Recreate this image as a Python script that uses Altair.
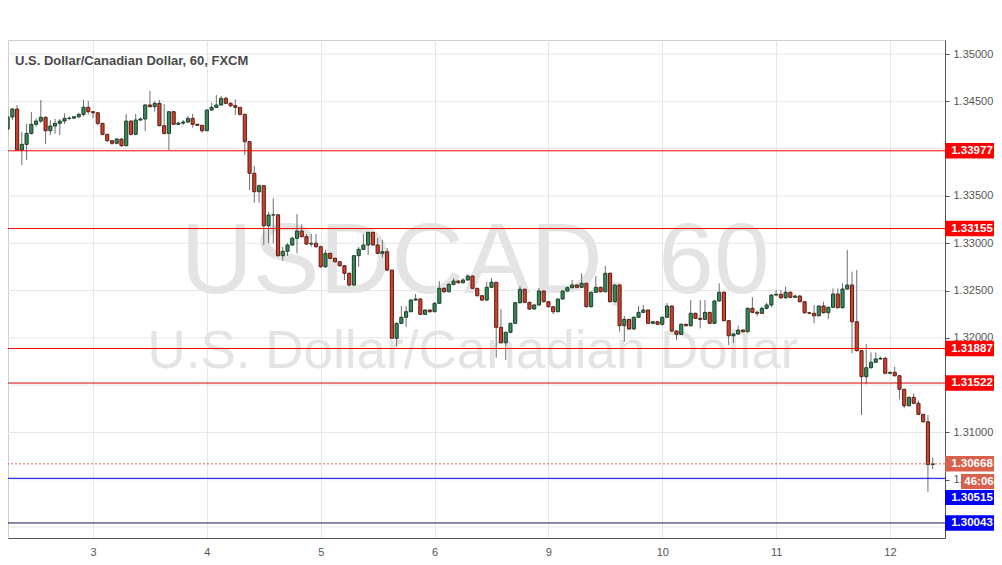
import altair as alt
import pandas as pd

# ---------------- data ----------------
first_open = 1.34207
closes = [
    1.34334, 1.34418, 1.33985, 1.34045, 1.34161, 1.34257, 1.34291, 1.34331, 1.34189, 1.34239,
    1.34267, 1.34291, 1.34320, 1.34322, 1.34337, 1.34362, 1.34436, 1.34390, 1.34379, 1.34267,
    1.34151, 1.34083, 1.34056, 1.34101, 1.34030, 1.34291, 1.34151, 1.34302, 1.34313, 1.34461,
    1.34443, 1.34479, 1.34242, 1.34161, 1.34390, 1.34257, 1.34270, 1.34281, 1.34320, 1.34257,
    1.34246, 1.34189, 1.34408, 1.34436, 1.34461, 1.34531, 1.34479, 1.34453, 1.34436, 1.34362,
    1.34073, 1.33739, 1.33544, 1.33608, 1.33185, 1.33298, 1.33300, 1.32868, 1.32914, 1.32981,
    1.33052, 1.33129, 1.33069, 1.32991, 1.32999, 1.32963, 1.32751, 1.32893, 1.32840, 1.32804,
    1.32762, 1.32682, 1.32558, 1.32868, 1.32935, 1.32981, 1.33115, 1.32981, 1.32893, 1.32910,
    1.32716, 1.31995, 1.32153, 1.32217, 1.32276, 1.32399, 1.32410, 1.32248, 1.32294, 1.32276,
    1.32365, 1.32523, 1.32487, 1.32565, 1.32600, 1.32582, 1.32611, 1.32653, 1.32523, 1.32445,
    1.32399, 1.32534, 1.32587, 1.32111, 1.31948, 1.32058, 1.32153, 1.32371, 1.32513, 1.32375,
    1.32304, 1.32347, 1.32495, 1.32381, 1.32329, 1.32276, 1.32410, 1.32495, 1.32530, 1.32558,
    1.32534, 1.32576, 1.32329, 1.32481, 1.32534, 1.32487, 1.32682, 1.32381, 1.32558, 1.32128,
    1.32195, 1.32093, 1.32217, 1.32269, 1.32294, 1.32153, 1.32170, 1.32143, 1.32217, 1.32336,
    1.32072, 1.32037, 1.32143, 1.32128, 1.32259, 1.32206, 1.32195, 1.32269, 1.32153, 1.32389,
    1.32481, 1.32181, 1.32022, 1.32040, 1.32082, 1.32064, 1.32312, 1.32269, 1.32259, 1.32312,
    1.32347, 1.32452, 1.32460, 1.32424, 1.32481, 1.32428, 1.32442, 1.32381, 1.32265, 1.32259,
    1.32233, 1.32336, 1.32265, 1.32322, 1.32463, 1.32318, 1.32516, 1.32558, 1.32170, 1.31864,
    1.31589, 1.31684, 1.31741, 1.31776, 1.31783, 1.31625, 1.31635, 1.31599, 1.31456, 1.31282,
    1.31371, 1.31308, 1.31191, 1.31113, 1.30660, 1.30668,
]
highs = [
    1.34429, 1.34430, 1.34461, 1.34178, 1.34260, 1.34387, 1.34320, 1.34513, 1.34340, 1.34302,
    1.34313, 1.34313, 1.34372, 1.34340, 1.34340, 1.34380, 1.34513, 1.34503, 1.34395, 1.34385,
    1.34270, 1.34155, 1.34090, 1.34110, 1.34110, 1.34366, 1.34300, 1.34366, 1.34330, 1.34470,
    1.34609, 1.34500, 1.34513, 1.34471, 1.34395, 1.34395, 1.34285, 1.34302, 1.34345, 1.34366,
    1.34265, 1.34250, 1.34410, 1.34485, 1.34566, 1.34556, 1.34550, 1.34490, 1.34520, 1.34440,
    1.34370, 1.34080, 1.33816, 1.33620, 1.33615, 1.33330, 1.33474, 1.33310, 1.32960, 1.33000,
    1.33070, 1.33309, 1.33200, 1.33097, 1.33097, 1.33097, 1.32975, 1.32928, 1.32900, 1.32850,
    1.32810, 1.32770, 1.32690, 1.32875, 1.32960, 1.33097, 1.33120, 1.33120, 1.33055, 1.33034,
    1.32949, 1.32720, 1.32160, 1.32336, 1.32336, 1.32410, 1.32463, 1.32420, 1.32300, 1.32300,
    1.32375, 1.32600, 1.32535, 1.32580, 1.32630, 1.32615, 1.32630, 1.32674, 1.32660, 1.32530,
    1.32450, 1.32590, 1.32632, 1.32590, 1.32304, 1.32065, 1.32160, 1.32380, 1.32548, 1.32520,
    1.32380, 1.32360, 1.32526, 1.32500, 1.32385, 1.32335, 1.32415, 1.32500, 1.32540, 1.32611,
    1.32565, 1.32682, 1.32580, 1.32490, 1.32653, 1.32540, 1.32759, 1.32690, 1.32565, 1.32565,
    1.32230, 1.32200, 1.32225, 1.32336, 1.32347, 1.32300, 1.32180, 1.32175, 1.32225, 1.32368,
    1.32340, 1.32080, 1.32150, 1.32150, 1.32399, 1.32265, 1.32399, 1.32399, 1.32275, 1.32395,
    1.32576, 1.32490, 1.32185, 1.32050, 1.32130, 1.32090, 1.32320, 1.32428, 1.32290, 1.32330,
    1.32370, 1.32460, 1.32505, 1.32505, 1.32540, 1.32490, 1.32455, 1.32450, 1.32385, 1.32275,
    1.32347, 1.32345, 1.32382, 1.32330, 1.32523, 1.32523, 1.32576, 1.32928, 1.32699, 1.32717,
    1.31870, 1.31934, 1.31846, 1.31846, 1.31800, 1.31800, 1.31645, 1.31694, 1.31605, 1.31460,
    1.31380, 1.31413, 1.31339, 1.31184, 1.31184, 1.30737,
]
lows = [
    1.34133, 1.34300, 1.33985, 1.33826, 1.33879, 1.34150, 1.34232, 1.34270, 1.34048, 1.34143,
    1.34157, 1.34143, 1.34260, 1.34300, 1.34315, 1.34320, 1.34340, 1.34360, 1.34320, 1.34250,
    1.34140, 1.34070, 1.34040, 1.34045, 1.34020, 1.34025, 1.34140, 1.34140, 1.34295, 1.34186,
    1.34435, 1.34390, 1.34235, 1.34150, 1.33985, 1.34250, 1.34250, 1.34249, 1.34270, 1.34222,
    1.34240, 1.34168, 1.34185, 1.34400, 1.34430, 1.34455, 1.34470, 1.34440, 1.34355, 1.34350,
    1.33932, 1.33562, 1.33428, 1.33428, 1.32981, 1.32999, 1.32999, 1.32860, 1.32815, 1.32865,
    1.32970, 1.32893, 1.33060, 1.32980, 1.32963, 1.32950, 1.32740, 1.32740, 1.32830, 1.32795,
    1.32750, 1.32611, 1.32545, 1.32550, 1.32752, 1.32930, 1.32875, 1.32975, 1.32885, 1.32847,
    1.32705, 1.31990, 1.31906, 1.32145, 1.32114, 1.32270, 1.32395, 1.32240, 1.32241, 1.32265,
    1.32270, 1.32360, 1.32475, 1.32480, 1.32555, 1.32575, 1.32575, 1.32605, 1.32515, 1.32435,
    1.32390, 1.32390, 1.32530, 1.31790, 1.31940, 1.31765, 1.32050, 1.32145, 1.32360, 1.32370,
    1.32295, 1.32300, 1.32340, 1.32375, 1.32320, 1.32250, 1.32270, 1.32405, 1.32490, 1.32525,
    1.32525, 1.32530, 1.32320, 1.32320, 1.32475, 1.32480, 1.32480, 1.32375, 1.32375, 1.32064,
    1.31959, 1.32085, 1.32085, 1.32210, 1.32260, 1.32145, 1.32145, 1.32135, 1.32130, 1.32210,
    1.32060, 1.31977, 1.32030, 1.32120, 1.32120, 1.32200, 1.32100, 1.32190, 1.32145, 1.32145,
    1.32385, 1.32175, 1.31924, 1.31945, 1.32030, 1.32055, 1.32060, 1.32260, 1.32230, 1.32250,
    1.32300, 1.32320, 1.32440, 1.32410, 1.32410, 1.32420, 1.32420, 1.32375, 1.32255, 1.32250,
    1.32153, 1.32225, 1.32255, 1.32196, 1.32315, 1.32310, 1.32310, 1.32510, 1.31836, 1.31855,
    1.31184, 1.31508, 1.31675, 1.31735, 1.31770, 1.31615, 1.31615, 1.31590, 1.31350, 1.31255,
    1.31275, 1.31300, 1.31185, 1.31105, 1.30373, 1.30610,
]

day_labels = ["3", "4", "5", "6", "9", "10", "11", "12"]
day_index = [18, 42, 66, 90, 114, 138, 162, 186]
# price ticks whose labels are visible (1.30000, 1.31500 and 1.34000 sit under level boxes)
y_ticks = [1.305, 1.31, 1.32, 1.325, 1.33, 1.335, 1.345, 1.35]
grid_prices = [1.30, 1.305, 1.31, 1.315, 1.32, 1.325, 1.33, 1.335, 1.34, 1.345, 1.35]

level_prices = [1.33977, 1.33155, 1.31887, 1.31522, 1.30515, 1.30043]
level_line_colors = ["#ff0000", "#ff0000", "#ff0000", "#e00000", "#0000ff", "#14145a"]
boxed_prices = [1.33977, 1.33155, 1.31887, 1.31522, 1.30043]
boxed_colors = ["#ff0000", "#ff0000", "#ff0000", "#ff0000", "#0000ff"]
shifted_box_label = "1.30515"
last_price = 1.30668
timer_text = "46:06"
title_text = "U.S. Dollar/Canadian Dollar, 60, FXCM"
wm_big = "USDCAD, 60"
wm_small = "U.S. Dollar/Canadian Dollar"

# ---------------- tables ----------------
n = len(closes)
opens = [first_open] + closes[:-1]
candles = pd.DataFrame({
    "i": list(range(n)),
    "open": opens,
    "close": closes,
    "high": highs,
    "low": lows,
})
candles["dir"] = ["up" if c >= o else "down" for o, c in zip(opens, closes)]

levels = pd.DataFrame({"price": level_prices, "lc": level_line_colors})
boxes = pd.DataFrame({"price": boxed_prices, "bc": boxed_colors})
boxes["label"] = [f"{p:.5f}" for p in boxed_prices]
last_df = pd.DataFrame({"price": [last_price], "label": [f"{last_price:.5f}"]})
grid_df = pd.DataFrame({"price": grid_prices})

W, H = 937, 498
FONT = "Liberation Sans"
YMIN, YMAX = 1.29884, 1.35148
xscale = alt.Scale(domain=[0.08, 197.6], nice=False, zero=False)
yscale = alt.Scale(domain=[YMIN, YMAX], nice=False, zero=False)

label_expr = "[" + ",".join(f"'{d}'" for d in day_labels) + "][indexof([" + \
    ",".join(str(v) for v in day_index) + "], datum.value)]"

xaxis = alt.Axis(values=day_index, labelExpr=label_expr, grid=True, gridColor="#e6e6e6",
                 domainColor="#555555", tickSize=0, labelColor="#555555", labelFontSize=11,
                 labelPadding=8, labelFont=FONT, title=None)
yaxis = alt.Axis(orient="right", values=y_ticks, format=".5f", grid=False,
                 domainColor="#555555", tickColor="#555555", tickSize=4, labelColor="#555555",
                 labelFontSize=11, labelPadding=4, labelFont=FONT, title=None)

# horizontal grid lines (all price steps, including those whose labels are hidden)
hgrid = alt.Chart(grid_df).mark_rule(color="#e6e6e6", strokeWidth=1).encode(
    y=alt.Y("price:Q", scale=yscale, axis=yaxis)
)

# watermark
wm1 = alt.Chart(pd.DataFrame({"t": [wm_big]})).mark_text(
    font=FONT, fontSize=100, color="#e4e4e4", align="center", baseline="alphabetic"
).encode(text="t:N", x=alt.value(467), y=alt.value(253))
wm2 = alt.Chart(pd.DataFrame({"t": [wm_small]})).mark_text(
    font=FONT, fontSize=53, color="#e4e4e4", align="center", baseline="alphabetic"
).encode(text="t:N", x=alt.value(465), y=alt.value(328))

title = alt.Chart(pd.DataFrame({"t": [title_text]})).mark_text(
    font=FONT, fontSize=13, color="#4a4a4a", align="left", baseline="middle", fontWeight="bold"
).encode(text="t:N", x=alt.value(7), y=alt.value(21))

base = alt.Chart(candles)
wicks = base.mark_rule(color="#6e6e6e", strokeWidth=1).encode(
    x=alt.X("i:Q", scale=xscale, axis=xaxis),
    y=alt.Y("low:Q", scale=yscale, axis=yaxis),
    y2="high:Q",
)
bodies = base.transform_calculate(
    x1="datum.i - 0.33", x2="datum.i + 0.33"
).mark_rect(strokeWidth=1).encode(
    x=alt.X("x1:Q", scale=xscale, axis=xaxis),
    x2="x2:Q",
    y=alt.Y("open:Q", scale=yscale, axis=yaxis),
    y2="close:Q",
    fill=alt.Fill("dir:N", scale=alt.Scale(domain=["up", "down"], range=["#37885a", "#cf412c"]), legend=None),
    stroke=alt.Stroke("dir:N", scale=alt.Scale(domain=["up", "down"], range=["#1b3f29", "#5c1c12"]), legend=None),
)

lines = alt.Chart(levels).mark_rule(strokeWidth=1).encode(
    y=alt.Y("price:Q", scale=yscale, axis=yaxis),
    color=alt.Color("lc:N", scale=None),
)
last_line = alt.Chart(last_df).mark_rule(strokeWidth=1, color="#d9604c", strokeDash=[2, 2]).encode(
    y=alt.Y("price:Q", scale=yscale, axis=yaxis),
)

half = 0.00082
box_rects = alt.Chart(boxes).transform_calculate(
    top=f"datum.price + {half}", bot=f"datum.price - {half}"
).mark_rect().encode(
    x=alt.value(W), x2=alt.value(W + 60),
    y=alt.Y("top:Q", scale=yscale, axis=yaxis), y2="bot:Q",
    color=alt.Color("bc:N", scale=None),
)
box_text = alt.Chart(boxes).mark_text(
    font=FONT, fontSize=11.5, fontWeight="bold", color="white", align="center", baseline="middle"
).encode(
    x=alt.value(W + 27), y=alt.Y("price:Q", scale=yscale, axis=yaxis), text="label:N"
)
last_rect = alt.Chart(last_df).transform_calculate(
    top=f"datum.price + {half}", bot=f"datum.price - {half}"
).mark_rect(color="#d9604c").encode(
    x=alt.value(W), x2=alt.value(W + 60),
    y=alt.Y("top:Q", scale=yscale, axis=yaxis), y2="bot:Q",
)
last_text = alt.Chart(last_df).mark_text(
    font=FONT, fontSize=11.5, fontWeight="bold", color="white", align="center", baseline="middle"
).encode(x=alt.value(W + 27), y=alt.Y("price:Q", scale=yscale, axis=yaxis), text="label:N")

timer_rect = alt.Chart(pd.DataFrame({"t": [timer_text]})).mark_rect(color="#d9604c").encode(
    x=alt.value(W + 16), x2=alt.value(W + 60), y=alt.value(434), y2=alt.value(449)
)
timer_txt = alt.Chart(pd.DataFrame({"t": [timer_text]})).mark_text(
    font=FONT, fontSize=11.5, fontWeight="bold", color="white", align="center", baseline="middle"
).encode(x=alt.value(W + 34), y=alt.value(441.5), text="t:N")

shift_rect = alt.Chart(pd.DataFrame({"t": [shifted_box_label]})).mark_rect(color="#0000ff").encode(
    x=alt.value(W), x2=alt.value(W + 60), y=alt.value(450), y2=alt.value(465)
)
shift_txt = alt.Chart(pd.DataFrame({"t": [shifted_box_label]})).mark_text(
    font=FONT, fontSize=11.5, fontWeight="bold", color="white", align="center", baseline="middle"
).encode(x=alt.value(W + 27), y=alt.value(457.5), text="t:N")

chart = alt.layer(
    hgrid, wm1, wm2, wicks, bodies, lines, last_line, title,
    box_rects, box_text, last_rect, last_text, timer_rect, timer_txt, shift_rect, shift_txt,
).resolve_scale(color="independent").properties(
    width=W, height=H,
    autosize=alt.AutoSizeParams(type="none"),
    padding={"left": 0, "top": 32, "right": 49, "bottom": 19},
    background="#ffffff",
).configure_view(stroke="#cfcfcf")

chart.save("out.html", embed_options={"renderer": "svg", "actions": False})
